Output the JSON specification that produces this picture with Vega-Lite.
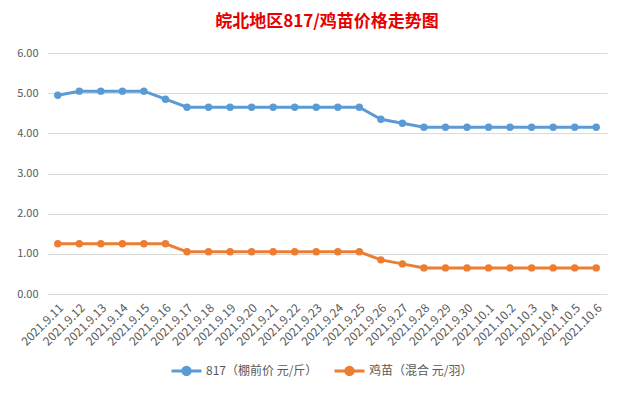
{
  "$schema": "https://vega.github.io/schema/vega-lite/v6.json",
  "autosize": "none",
  "width": 560,
  "height": 241,
  "padding": {"left": 47, "top": 53, "right": 17, "bottom": 99},
  "background": "white",
  "title": {
    "text": "皖北地区817/鸡苗价格走势图",
    "font": "Noto Sans CJK SC",
    "fontSize": 17,
    "fontWeight": "bold",
    "color": "#E60000",
    "anchor": "middle",
    "offset": 16,
    "frame": "group"
  },
  "config": {
    "view": {"stroke": null},
    "font": "Noto Sans CJK SC",
    "axis": {"labelFont": "Noto Sans CJK SC", "labelColor": "#595959", "labelFontSize": 11}
  },
  "data": {
    "values": [
      {"date": "2021.9.11", "series": "817（棚前价 元/斤）", "value": 4.95},
      {"date": "2021.9.12", "series": "817（棚前价 元/斤）", "value": 5.05},
      {"date": "2021.9.13", "series": "817（棚前价 元/斤）", "value": 5.05},
      {"date": "2021.9.14", "series": "817（棚前价 元/斤）", "value": 5.05},
      {"date": "2021.9.15", "series": "817（棚前价 元/斤）", "value": 5.05},
      {"date": "2021.9.16", "series": "817（棚前价 元/斤）", "value": 4.85},
      {"date": "2021.9.17", "series": "817（棚前价 元/斤）", "value": 4.65},
      {"date": "2021.9.18", "series": "817（棚前价 元/斤）", "value": 4.65},
      {"date": "2021.9.19", "series": "817（棚前价 元/斤）", "value": 4.65},
      {"date": "2021.9.20", "series": "817（棚前价 元/斤）", "value": 4.65},
      {"date": "2021.9.21", "series": "817（棚前价 元/斤）", "value": 4.65},
      {"date": "2021.9.22", "series": "817（棚前价 元/斤）", "value": 4.65},
      {"date": "2021.9.23", "series": "817（棚前价 元/斤）", "value": 4.65},
      {"date": "2021.9.24", "series": "817（棚前价 元/斤）", "value": 4.65},
      {"date": "2021.9.25", "series": "817（棚前价 元/斤）", "value": 4.65},
      {"date": "2021.9.26", "series": "817（棚前价 元/斤）", "value": 4.35},
      {"date": "2021.9.27", "series": "817（棚前价 元/斤）", "value": 4.25},
      {"date": "2021.9.28", "series": "817（棚前价 元/斤）", "value": 4.15},
      {"date": "2021.9.29", "series": "817（棚前价 元/斤）", "value": 4.15},
      {"date": "2021.9.30", "series": "817（棚前价 元/斤）", "value": 4.15},
      {"date": "2021.10.1", "series": "817（棚前价 元/斤）", "value": 4.15},
      {"date": "2021.10.2", "series": "817（棚前价 元/斤）", "value": 4.15},
      {"date": "2021.10.3", "series": "817（棚前价 元/斤）", "value": 4.15},
      {"date": "2021.10.4", "series": "817（棚前价 元/斤）", "value": 4.15},
      {"date": "2021.10.5", "series": "817（棚前价 元/斤）", "value": 4.15},
      {"date": "2021.10.6", "series": "817（棚前价 元/斤）", "value": 4.15},
      {"date": "2021.9.11", "series": "鸡苗（混合 元/羽）", "value": 1.25},
      {"date": "2021.9.12", "series": "鸡苗（混合 元/羽）", "value": 1.25},
      {"date": "2021.9.13", "series": "鸡苗（混合 元/羽）", "value": 1.25},
      {"date": "2021.9.14", "series": "鸡苗（混合 元/羽）", "value": 1.25},
      {"date": "2021.9.15", "series": "鸡苗（混合 元/羽）", "value": 1.25},
      {"date": "2021.9.16", "series": "鸡苗（混合 元/羽）", "value": 1.25},
      {"date": "2021.9.17", "series": "鸡苗（混合 元/羽）", "value": 1.05},
      {"date": "2021.9.18", "series": "鸡苗（混合 元/羽）", "value": 1.05},
      {"date": "2021.9.19", "series": "鸡苗（混合 元/羽）", "value": 1.05},
      {"date": "2021.9.20", "series": "鸡苗（混合 元/羽）", "value": 1.05},
      {"date": "2021.9.21", "series": "鸡苗（混合 元/羽）", "value": 1.05},
      {"date": "2021.9.22", "series": "鸡苗（混合 元/羽）", "value": 1.05},
      {"date": "2021.9.23", "series": "鸡苗（混合 元/羽）", "value": 1.05},
      {"date": "2021.9.24", "series": "鸡苗（混合 元/羽）", "value": 1.05},
      {"date": "2021.9.25", "series": "鸡苗（混合 元/羽）", "value": 1.05},
      {"date": "2021.9.26", "series": "鸡苗（混合 元/羽）", "value": 0.85},
      {"date": "2021.9.27", "series": "鸡苗（混合 元/羽）", "value": 0.75},
      {"date": "2021.9.28", "series": "鸡苗（混合 元/羽）", "value": 0.65},
      {"date": "2021.9.29", "series": "鸡苗（混合 元/羽）", "value": 0.65},
      {"date": "2021.9.30", "series": "鸡苗（混合 元/羽）", "value": 0.65},
      {"date": "2021.10.1", "series": "鸡苗（混合 元/羽）", "value": 0.65},
      {"date": "2021.10.2", "series": "鸡苗（混合 元/羽）", "value": 0.65},
      {"date": "2021.10.3", "series": "鸡苗（混合 元/羽）", "value": 0.65},
      {"date": "2021.10.4", "series": "鸡苗（混合 元/羽）", "value": 0.65},
      {"date": "2021.10.5", "series": "鸡苗（混合 元/羽）", "value": 0.65},
      {"date": "2021.10.6", "series": "鸡苗（混合 元/羽）", "value": 0.65}
    ]
  },
  "mark": {"type": "line", "strokeWidth": 3, "point": {"filled": true, "size": 55}},
  "encoding": {
    "x": {
      "field": "date",
      "type": "ordinal",
      "sort": null,
      "scale": {"type": "band", "paddingInner": 0, "paddingOuter": 0},
      "axis": {
        "title": null,
        "labelAngle": -45,
        "labelAlign": "right",
        "labelBaseline": "top",
        "labelFontSize": 12,
        "labelPadding": 8,
        "domain": false,
        "ticks": false,
        "grid": false,
        "labelOverlap": false
      }
    },
    "y": {
      "field": "value",
      "type": "quantitative",
      "scale": {"domain": [0, 6], "nice": false},
      "axis": {
        "title": null,
        "values": [0, 1, 2, 3, 4, 5, 6],
        "format": ".2f",
        "domain": false,
        "ticks": false,
        "labelPadding": 9,
        "gridColor": "#D9D9D9",
        "gridWidth": 1
      }
    },
    "color": {
      "field": "series",
      "type": "nominal",
      "sort": null,
      "scale": {"domain": ["817（棚前价 元/斤）", "鸡苗（混合 元/羽）"], "range": ["#5B9BD5", "#ED7D31"]},
      "legend": {
        "title": null,
        "orient": "none",
        "direction": "horizontal",
        "legendX": 123,
        "legendY": 301,
        "labelFont": "Noto Sans CJK SC",
        "labelFontSize": 12,
        "labelColor": "#595959",
        "labelOffset": 3,
        "symbolType": "M-1,0L1,0M-0.25,0A0.25,0.25 0 1,1 0.25,0A0.25,0.25 0 1,1 -0.25,0Z",
        "symbolSize": 900,
        "symbolStrokeWidth": 3,
        "columnPadding": 10,
        "encode": {"symbols": {"update": {"fill": {"scale": "color", "field": "value"}}}}
      }
    }
  }
}
